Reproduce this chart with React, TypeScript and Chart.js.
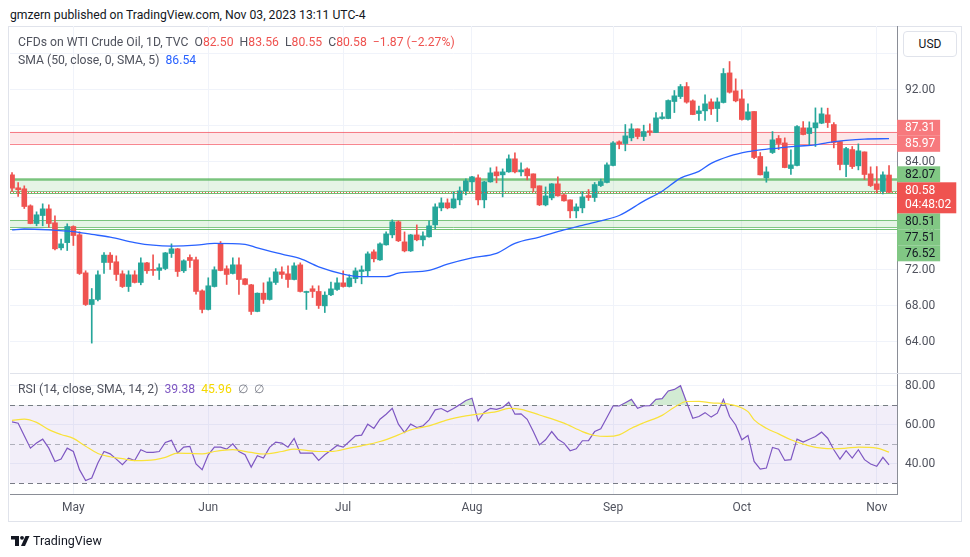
import React, { useEffect, useRef } from "react";
import { Chart, registerables } from "chart.js";

Chart.register(...registerables);

// ---------- DATA ----------
const opens = [
  82.52, 81.08, 80.97, 79.08, 77.11, 78.0, 78.74, 77.19, 74.41, 74.99,
  76.78, 75.86, 71.63, 68.11, 68.67, 72.78, 73.6, 72.86, 71.52, 70.11,
  71.41, 70.56, 72.74, 72.0, 71.9, 72.11, 73.78, 74.3, 71.86, 73.34,
  73.08, 69.63, 67.56, 70.11, 74.89, 72.08, 71.56, 72.52, 70.97, 70.3,
  67.34, 69.37, 68.67, 70.56, 71.74, 71.52, 70.89, 72.52, 69.45, 69.86,
  69.56, 67.96, 69.19, 69.78, 70.52, 70.11, 70.99, 71.78, 71.85, 73.96,
  73.07, 74.74, 75.85, 77.3, 75.07, 74.07, 75.85, 75.3, 75.63, 76.96,
  78.85, 79.41, 78.85, 79.74, 80.74, 81.74, 82.19, 79.74, 81.74, 82.85,
  82.52, 82.85, 84.3, 82.85, 83.18, 82.63, 81.3, 79.18, 79.96, 81.52,
  80.3, 79.74, 78.52, 78.85, 80.22, 80.0, 81.33, 81.67, 83.56, 86.19,
  86.0, 86.63, 87.63, 86.78, 87.41, 87.22, 88.78, 88.78, 90.67, 91.22,
  92.33, 90.74, 89.33, 89.63, 90.63, 89.89, 90.56, 93.85, 91.85, 90.96,
  88.67, 89.56, 84.56, 82.19, 85.0, 86.56, 86.07, 83.22, 83.56, 87.74,
  87.11, 87.74, 88.26, 89.19, 88.11, 86.22, 83.67, 85.33, 83.52, 85.07,
  82.63, 81.52, 80.7, 82.5,
];
const highs = [
  82.78, 81.67, 81.3, 79.19, 78.41, 79.3, 79.19, 77.97, 75.37, 77.08,
  76.86, 76.19, 71.86, 69.89, 71.86, 73.89, 73.89, 73.52, 71.86, 71.86,
  71.86, 73.3, 72.8, 73.63, 72.63, 73.9, 74.85, 74.35, 73.08, 73.63,
  73.37, 69.74, 71.08, 72.3, 75.11, 72.41, 73.3, 73.3, 71.0, 70.35,
  69.4, 70.52, 71.08, 72.1, 72.3, 72.41, 72.74, 72.74, 69.6, 70.19,
  70.19, 69.52, 70.59, 71.07, 71.85, 71.41, 72.18, 72.4, 73.96, 74.19,
  74.96, 76.18, 77.52, 77.41, 76.18, 75.9, 76.96, 76.18, 77.41, 79.3,
  79.96, 79.85, 80.63, 81.18, 82.07, 82.35, 82.52, 81.8, 83.3, 83.41,
  83.18, 84.74, 84.96, 83.85, 83.3, 82.63, 81.3, 81.18, 81.55, 82.3,
  80.4, 79.74, 79.3, 80.63, 80.89, 81.67, 82.04, 83.85, 86.22, 86.3,
  88.11, 88.19, 87.63, 88.04, 88.19, 89.44, 89.44, 90.85, 91.89, 92.56,
  92.78, 90.85, 90.15, 91.41, 90.96, 91.07, 94.33, 95.11, 93.19, 91.96,
  90.41, 89.56, 85.0, 83.41, 87.33, 86.89, 86.63, 85.3, 88.0, 88.44,
  88.41, 89.96, 89.96, 89.93, 88.33, 86.25, 85.59, 85.67, 85.96, 85.07,
  83.41, 83.44, 82.85, 83.56,
];
const lows = [
  80.67, 80.11, 78.78, 77.08, 76.86, 76.86, 76.67, 74.19, 74.19, 74.11,
  74.67, 71.45, 68.0, 63.82, 68.5, 71.56, 72.0, 70.78, 70.0, 69.56,
  70.5, 70.3, 71.56, 71.34, 70.89, 71.97, 73.34, 71.23, 71.67, 72.23,
  69.26, 67.19, 67.5, 70.05, 71.85, 70.34, 71.5, 69.23, 70.3, 67.0,
  67.3, 68.23, 68.6, 70.34, 71.0, 70.0, 70.85, 69.5, 67.56, 68.89,
  67.67, 67.22, 69.1, 69.67, 70.04, 70.05, 70.52, 70.41, 71.3, 72.85,
  73.0, 74.7, 75.52, 75.1, 73.96, 74.0, 75.19, 74.63, 75.6, 76.52,
  78.52, 78.74, 78.8, 79.19, 80.3, 80.74, 79.19, 78.85, 81.7, 81.63,
  80.07, 82.8, 82.74, 82.41, 81.96, 80.63, 79.1, 79.07, 79.74, 80.15,
  79.6, 77.74, 77.74, 78.3, 79.67, 79.56, 81.22, 81.63, 83.5, 85.41,
  85.19, 86.3, 86.52, 86.33, 86.89, 87.2, 88.7, 88.75, 89.44, 91.0,
  90.48, 89.2, 88.56, 88.56, 89.22, 88.44, 90.5, 91.6, 90.63, 88.6,
  88.6, 84.33, 82.5, 81.7, 84.89, 85.33, 83.3, 82.56, 83.5, 86.96,
  85.78, 85.67, 88.2, 87.78, 85.52, 83.07, 82.33, 83.22, 83.07, 82.0,
  81.22, 80.52, 80.41, 80.55,
];
const closes = [
  81.04, 80.86, 79.0, 77.11, 78.08, 78.74, 77.11, 74.3, 74.85, 76.78,
  75.78, 71.56, 68.11, 68.67, 71.41, 73.6, 72.78, 71.45, 70.11, 71.41,
  70.56, 72.74, 71.86, 71.9, 72.19, 73.85, 74.3, 71.78, 72.97, 73.0,
  69.56, 67.56, 70.19, 71.97, 71.89, 71.45, 72.52, 70.89, 70.34, 67.34,
  69.37, 68.67, 70.63, 71.74, 71.45, 70.89, 72.41, 69.56, 69.56, 69.56,
  68.0, 69.15, 69.85, 70.52, 70.11, 71.07, 71.85, 71.96, 73.74, 73.19,
  74.85, 75.96, 77.3, 75.19, 74.07, 75.85, 75.3, 75.74, 76.85, 78.96,
  79.41, 78.85, 79.85, 80.74, 81.85, 82.3, 79.74, 81.74, 82.74, 82.41,
  82.85, 84.3, 82.85, 83.07, 82.41, 81.07, 79.18, 80.18, 81.52, 80.18,
  79.63, 78.52, 78.96, 80.07, 80.0, 81.44, 81.78, 83.63, 86.07, 85.96,
  86.85, 87.63, 86.78, 87.33, 87.26, 88.85, 88.96, 90.78, 91.3, 92.33,
  90.6, 89.22, 89.63, 90.41, 89.85, 90.63, 93.78, 91.7, 90.74, 88.67,
  89.52, 84.45, 82.52, 82.85, 86.41, 86.0, 83.33, 83.63, 87.89, 87.0,
  87.74, 88.3, 89.3, 88.33, 86.11, 83.67, 85.44, 83.44, 85.19, 82.56,
  81.33, 80.89, 82.52, 80.58,
];

const monthLabels = ["May", "Jun", "Jul", "Aug", "Sep", "Oct", "Nov"];
const monthStartIdx = [10, 32, 54, 75, 98, 119, 141];

const sma50Idx = [0, 2, 6, 10, 13, 16, 20, 23, 26, 30, 33, 38, 40, 44, 47, 50, 54, 57, 61, 63, 68, 71, 75, 79, 82, 86, 90, 93, 96, 99, 103, 106, 109, 112, 114, 117, 120, 122, 125, 128, 131, 133, 136, 139, 143];
const sma50Val = [76.4, 76.5, 76.4, 76.2, 75.9, 75.6, 75.0, 74.7, 74.6, 74.7, 74.9, 74.8, 74.4, 73.7, 73.2, 72.3, 71.5, 71.2, 71.2, 71.6, 71.9, 72.6, 73.3, 73.8, 74.9, 75.6, 76.4, 76.9, 77.4, 78.0, 79.6, 80.7, 82.15, 82.9, 83.8, 84.6, 85.1, 85.3, 85.5, 85.7, 85.85, 86.1, 86.35, 86.5, 86.54];

const rsi = [
  61.5, 60.8, 54.3, 48.0, 50.6, 52.6, 48.0, 41.2, 42.4, 48.0,
  46.3, 37.0, 31.4, 32.7, 40.4, 46.3, 45.1, 42.4, 39.5, 42.9,
  41.7, 47.2, 45.8, 45.8, 46.3, 50.9, 52.0, 45.5, 48.5, 48.9,
  39.9, 37.0, 44.6, 48.5, 48.5, 47.5, 50.2, 46.3, 44.6, 38.3,
  44.1, 42.9, 48.4, 51.1, 50.6, 48.5, 53.0, 45.5, 45.5, 45.5,
  41.7, 44.6, 46.9, 49.4, 48.5, 51.4, 54.3, 54.7, 60.3, 58.1,
  62.8, 65.4, 68.4, 60.3, 56.0, 60.3, 58.6, 59.4, 62.5, 67.6,
  68.3, 66.6, 68.3, 70.3, 72.4, 73.6, 62.0, 66.4, 68.4, 67.9,
  68.8, 71.5, 65.4, 65.6, 62.8, 56.5, 49.7, 52.3, 56.5, 52.6,
  50.6, 46.7, 47.7, 51.8, 51.9, 56.5, 57.9, 63.7, 69.6, 69.6,
  71.3, 73.0, 68.4, 69.6, 69.8, 73.0, 73.4, 77.3, 78.1, 80.0,
  71.5, 63.3, 64.2, 66.2, 63.9, 65.9, 73.0, 64.2, 59.9, 52.3,
  54.5, 41.2, 37.3, 37.8, 48.4, 47.5, 41.7, 42.1, 52.6, 51.1,
  52.6, 54.0, 56.2, 53.1, 47.2, 42.4, 46.7, 42.9, 47.2, 42.1,
  39.9, 38.7, 43.3, 39.38,
];

const rsiSmaIdx = [0, 2, 4, 6, 8, 10, 12, 14, 16, 18, 20, 22, 25, 27, 31, 33, 36, 39, 41, 44, 46, 48, 50, 52, 55, 57, 60, 63, 65, 68, 71, 74, 76, 79, 81, 83, 86, 90, 93, 95, 97, 99, 101, 103, 106, 108, 110, 112, 114, 117, 120, 121, 123, 125, 127, 130, 132, 134, 136, 138, 141, 143];
const rsiSmaVal = [62.2, 62.9, 61.2, 57.5, 55.0, 53.0, 49.0, 45.3, 43.6, 42.6, 41.6, 41.7, 43.3, 45.5, 45.1, 46.3, 47.2, 45.8, 45.0, 46.3, 47.5, 46.9, 46.3, 46.3, 48.0, 49.2, 51.4, 54.8, 57.4, 59.4, 62.5, 64.5, 65.4, 66.7, 68.4, 67.9, 65.0, 60.8, 56.5, 54.5, 54.0, 54.8, 58.2, 61.0, 64.8, 69.0, 71.9, 72.0, 71.2, 70.5, 66.7, 62.5, 58.2, 55.3, 52.3, 49.2, 48.0, 47.7, 48.0, 48.5, 48.0, 45.96];

const priceTicks = [64, 68, 72, 76, 80, 84, 88, 92, 96];
const rsiTicks = [40, 60, 80];

const resistanceZone = [87.31, 85.97];
const supportZones = [[82.07, 80.72], [77.51, 76.72]];
const supportLines = [80.51, 76.52];
const lastPrice = 80.58;
const countdown = "04:48:02";
const resistanceLabels = [87.31, 85.97];
const supportLabels = [82.07, 80.51, 77.51, 76.52];

// ---------- STYLE ----------
const FONT = "Roboto, 'Liberation Sans', sans-serif";
const UP = "#26a69a";
const DOWN = "#ef5350";
const TEXT = "#50535e";

const W = 970;
const H = 557;
const PLOT_LEFT = 10;
const PLOT_RIGHT = 897;
const AXIS_W = 65;
const PANE_TOP = 26;
const PANE_SPLIT = 373;
const PANE_BOTTOM = 494;
const XAXIS_H = 28;

const paneOverlay = {
  id: "paneOverlay",
  beforeDatasetsDraw(chart: any) {
    const { ctx, chartArea } = chart;
    const y = chart.scales.y;
    const y2 = chart.scales.y2;
    const L = chartArea.left;
    const R = chartArea.right;
    ctx.save();
    const t70 = y2.getPixelForValue(70);
    const t30 = y2.getPixelForValue(30);
    ctx.fillStyle = "rgba(126,87,194,0.1)";
    ctx.fillRect(L, t70, R - L, t30 - t70);
    ctx.lineWidth = 1;
    ctx.setLineDash([5, 4]);
    [[70, "#787b86"], [50, "rgba(120,123,134,0.55)"], [30, "#787b86"]].forEach(([v, c]: any) => {
      const py = Math.round(y2.getPixelForValue(v)) + 0.5;
      ctx.strokeStyle = c;
      ctx.beginPath();
      ctx.moveTo(L, py);
      ctx.lineTo(R, py);
      ctx.stroke();
    });
    ctx.setLineDash([]);
    const r1 = y.getPixelForValue(resistanceZone[0]);
    const r2 = y.getPixelForValue(resistanceZone[1]);
    ctx.fillStyle = "rgba(242,54,69,0.12)";
    ctx.fillRect(L, r1, R - L, r2 - r1);
    ctx.strokeStyle = "rgba(242,54,69,0.6)";
    [r1, r2].forEach((p) => {
      const py = Math.round(p) + 0.5;
      ctx.beginPath();
      ctx.moveTo(L, py);
      ctx.lineTo(R, py);
      ctx.stroke();
    });
    supportZones.forEach((z, k) => {
      const a = y.getPixelForValue(z[0]);
      const b = y.getPixelForValue(z[1]);
      ctx.fillStyle = "rgba(76,175,80,0.14)";
      ctx.fillRect(L, a, R - L, b - a);
      ctx.strokeStyle = "rgba(76,175,80,0.7)";
      ctx.lineWidth = k === 0 ? 2.5 : 1;
      ctx.beginPath();
      ctx.moveTo(L, Math.round(a) + 0.5);
      ctx.lineTo(R, Math.round(a) + 0.5);
      ctx.stroke();
      ctx.lineWidth = 1;
      ctx.beginPath();
      ctx.moveTo(L, Math.round(b) + 0.5);
      ctx.lineTo(R, Math.round(b) + 0.5);
      ctx.stroke();
    });
    supportLines.forEach((v) => {
      const py = Math.round(y.getPixelForValue(v)) + 0.5;
      ctx.strokeStyle = "rgba(76,175,80,0.8)";
      ctx.beginPath();
      ctx.moveTo(L, py);
      ctx.lineTo(R, py);
      ctx.stroke();
    });
    ctx.restore();
  },
  afterDatasetsDraw(chart: any) {
    const { ctx, chartArea } = chart;
    const y = chart.scales.y;
    const py = Math.round(y.getPixelForValue(lastPrice)) + 0.5;
    ctx.save();
    ctx.strokeStyle = DOWN;
    ctx.lineWidth = 1;
    ctx.setLineDash([1, 2]);
    ctx.beginPath();
    ctx.moveTo(chartArea.left, py);
    ctx.lineTo(chartArea.right, py);
    ctx.stroke();
    ctx.restore();
  },
  afterDraw(chart: any) {
    const { ctx, chartArea } = chart;
    const y = chart.scales.y;
    const x0 = chartArea.right;
    ctx.save();
    ctx.strokeStyle = "#e0e3eb";
    ctx.lineWidth = 1;
    const sep = Math.round(chart.scales.y2.top) + 0.5;
    ctx.beginPath();
    ctx.moveTo(chartArea.left, sep);
    ctx.lineTo(961, sep);
    ctx.stroke();

    ctx.font = `12px ${FONT}`;
    ctx.textBaseline = "middle";
    ctx.textAlign = "left";
    const LH = 16;
    const lastY = y.getPixelForValue(lastPrice);
    const redTop = lastY - 10;
    const redH = 31;
    const items: any[] = [
      ...resistanceLabels.map((v) => ({ v, kind: "res" })),
      ...supportLabels.map((v) => ({ v, kind: "sup" })),
    ].map((it) => ({ ...it, y: y.getPixelForValue(it.v), top: 0 }));
    const above = items.filter((it) => it.y < lastY).sort((a, b) => b.y - a.y);
    let lim = redTop;
    above.forEach((it) => {
      const bottom = Math.min(it.y + LH / 2, lim);
      it.top = bottom - LH;
      lim = it.top;
    });
    const below = items.filter((it) => it.y >= lastY).sort((a, b) => a.y - b.y);
    let lim2 = redTop + redH;
    below.forEach((it) => {
      const top = Math.max(it.y - LH / 2, lim2);
      it.top = top;
      lim2 = top + LH;
    });
    items.forEach((it) => {
      const txt = it.v.toFixed(2);
      const w = ctx.measureText(txt).width;
      ctx.fillStyle = it.kind === "res" ? "#f7797d" : "#81c784";
      ctx.fillRect(x0, it.top, 8 + w + 5, LH);
      ctx.fillStyle = it.kind === "res" ? "#ffffff" : "#131722";
      ctx.fillText(txt, x0 + 8, it.top + LH / 2 + 0.5);
    });
    const t1 = lastPrice.toFixed(2);
    const wC = ctx.measureText(countdown).width;
    ctx.fillStyle = DOWN;
    ctx.fillRect(x0, redTop, 8 + wC + 5, redH);
    ctx.fillStyle = "#ffffff";
    ctx.fillText(t1, x0 + 8, redTop + 8.5);
    ctx.fillText(countdown, x0 + 8, redTop + 23);
    ctx.restore();
  },
};

export default function App() {
  const ref = useRef<HTMLCanvasElement | null>(null);

  useEffect(() => {
    if (!ref.current) return;
    Chart.defaults.font.family = FONT;
    const wickData = closes.map((_, i) => ({ x: i, y: [lows[i], highs[i]] }));
    const bodyData = closes.map((c, i) => ({ x: i, y: [Math.min(opens[i], c), Math.max(opens[i], c)] }));
    const colors = closes.map((c, i) => (c >= opens[i] ? UP : DOWN));

    const chart = new Chart(ref.current, {
      type: "bar",
      data: {
        datasets: [
          {
            type: "bar",
            data: bodyData as any,
            backgroundColor: colors,
            barThickness: 5,
            grouped: false,
            minBarLength: 1,
            borderWidth: 0,
            yAxisID: "y",
            order: 2,
          } as any,
          {
            type: "bar",
            data: wickData as any,
            backgroundColor: colors,
            barThickness: 1,
            grouped: false,
            borderWidth: 0,
            yAxisID: "y",
            order: 3,
          } as any,
          {
            type: "line",
            data: sma50Idx.map((x, k) => ({ x, y: sma50Val[k] })),
            borderColor: "#2962ff",
            borderWidth: 1.3,
            pointRadius: 0,
            cubicInterpolationMode: "monotone",
            yAxisID: "y",
            order: 1,
          } as any,
          {
            type: "line",
            data: rsi.map((v, i) => ({ x: i, y: v })),
            borderColor: "#7e57c2",
            borderWidth: 1.2,
            pointRadius: 0,
            yAxisID: "y2",
            fill: { target: { value: 70 }, above: "rgba(76,175,80,0.25)", below: "rgba(0,0,0,0)" },
            order: 1,
          } as any,
          {
            type: "line",
            data: rsiSmaIdx.map((x, k) => ({ x, y: rsiSmaVal[k] })),
            borderColor: "#f9e23a",
            borderWidth: 1.2,
            pointRadius: 0,
            cubicInterpolationMode: "monotone",
            yAxisID: "y2",
            order: 0,
          } as any,
        ],
      },
      options: {
        animation: false,
        responsive: false,
        devicePixelRatio: 1,
        events: [],
        layout: {
          padding: {
            left: PLOT_LEFT,
            top: PANE_TOP,
            right: W - PLOT_RIGHT - AXIS_W,
            bottom: H - PANE_BOTTOM - XAXIS_H,
          },
        },
        plugins: { legend: { display: false }, tooltip: { enabled: false } },
        scales: {
          x: {
            type: "linear",
            min: -0.33,
            max: 144.3,
            offset: false,
            grid: { color: "#f0f3fa", drawTicks: false, offset: false },
            border: { color: "#8a8d96" },
            afterBuildTicks: (s: any) => {
              s.ticks = monthStartIdx.map((v) => ({ value: v }));
            },
            afterFit: (s: any) => {
              s.height = XAXIS_H;
            },
            ticks: {
              autoSkip: false,
              maxRotation: 0,
              padding: 7,
              color: TEXT,
              font: { size: 12 },
              callback: (_v: any, i: number) => monthLabels[i],
            },
          },
          y2: {
            type: "linear",
            position: "right",
            stack: "panes",
            stackWeight: PANE_BOTTOM - PANE_SPLIT,
            weight: 2,
            min: 24.52,
            max: 86.5,
            grid: { color: "#f0f3fa", drawTicks: false },
            border: { color: "#8a8d96" },
            afterBuildTicks: (s: any) => {
              s.ticks = rsiTicks.map((v) => ({ value: v }));
            },
            afterFit: (s: any) => {
              s.width = AXIS_W;
            },
            ticks: {
              padding: 8,
              color: TEXT,
              font: { size: 12 },
              callback: (v: any) => Number(v).toFixed(2),
            },
          },
          y: {
            type: "linear",
            position: "right",
            stack: "panes",
            stackWeight: PANE_SPLIT - PANE_TOP,
            weight: 1,
            min: 60.5,
            max: 99.06,
            grid: { color: "#f0f3fa", drawTicks: false },
            border: { color: "#8a8d96" },
            afterBuildTicks: (s: any) => {
              s.ticks = priceTicks.map((v) => ({ value: v }));
            },
            afterFit: (s: any) => {
              s.width = AXIS_W;
            },
            ticks: {
              padding: 8,
              color: TEXT,
              font: { size: 12 },
              callback: (v: any) => (v >= 96 ? "" : Number(v).toFixed(2)),
            },
          },
        },
      } as any,
      plugins: [paneOverlay],
    });
    return () => chart.destroy();
  }, []);

  const txt: React.CSSProperties = { position: "absolute", whiteSpace: "nowrap", fontSize: 12.2, color: TEXT, lineHeight: "16px" };
  const red = { color: DOWN };

  return (
    <div style={{ position: "absolute", left: 0, top: 0, width: W, height: H, background: "#fff", overflow: "hidden", fontFamily: FONT }}>
      <div style={{ ...txt, left: 10, top: 7, color: "#131722" }}>gmzern published on TradingView.com, Nov 03, 2023 13:11 UTC-4</div>
      <div style={{ position: "absolute", left: 8, top: 26, width: 954, height: 496, border: "1px solid #e0e3eb", boxSizing: "border-box" }} />
      <canvas ref={ref} width={W} height={H} style={{ position: "absolute", left: 0, top: 0, width: W, height: H }} />
      <div style={{ ...txt, left: 18, top: 34 }}>
        CFDs on WTI Crude Oil, 1D, TVC&nbsp;&nbsp;O<span style={red}>82.50</span>&nbsp;&nbsp;H<span style={red}>83.56</span>&nbsp;&nbsp;L<span style={red}>80.55</span>&nbsp;&nbsp;C<span style={red}>80.58</span>&nbsp;&nbsp;<span style={red}>−1.87 (−2.27%)</span>
      </div>
      <div style={{ ...txt, left: 18, top: 52 }}>
        SMA (50, close, 0, SMA, 5)&nbsp;&nbsp;<span style={{ color: "#2962ff" }}>86.54</span>
      </div>
      <div style={{ ...txt, left: 18, top: 381 }}>
        RSI (14, close, SMA, 14, 2)&nbsp;&nbsp;<span style={{ color: "#7e57c2" }}>39.38</span>&nbsp;&nbsp;<span style={{ color: "#f5d800" }}>45.96</span>&nbsp;&nbsp;<span style={{ color: "#787b86" }}>∅</span>&nbsp;&nbsp;<span style={{ color: "#787b86" }}>∅</span>
      </div>
      <div style={{ position: "absolute", left: 903, top: 31, width: 54, height: 26, border: "1px solid #e0e3eb", borderRadius: 4, boxSizing: "border-box", background: "#fff", fontSize: 12, color: "#131722", display: "flex", alignItems: "center", justifyContent: "center" }}>USD</div>
      <div style={{ position: "absolute", left: 11, top: 533, display: "flex", alignItems: "center" }}>
        <svg width="19" height="12" viewBox="0 0 19 12">
          <rect x="0" y="1" width="8" height="3.5" fill="#131722" />
          <rect x="4" y="1" width="4" height="10" fill="#131722" />
          <circle cx="11" cy="2.8" r="1.9" fill="#131722" />
          <polygon points="10,11 14.5,1 18.5,1 14,11" fill="#131722" />
        </svg>
        <span style={{ marginLeft: 3, fontSize: 12.5, color: "#131722" }}>TradingView</span>
      </div>
    </div>
  );
}
